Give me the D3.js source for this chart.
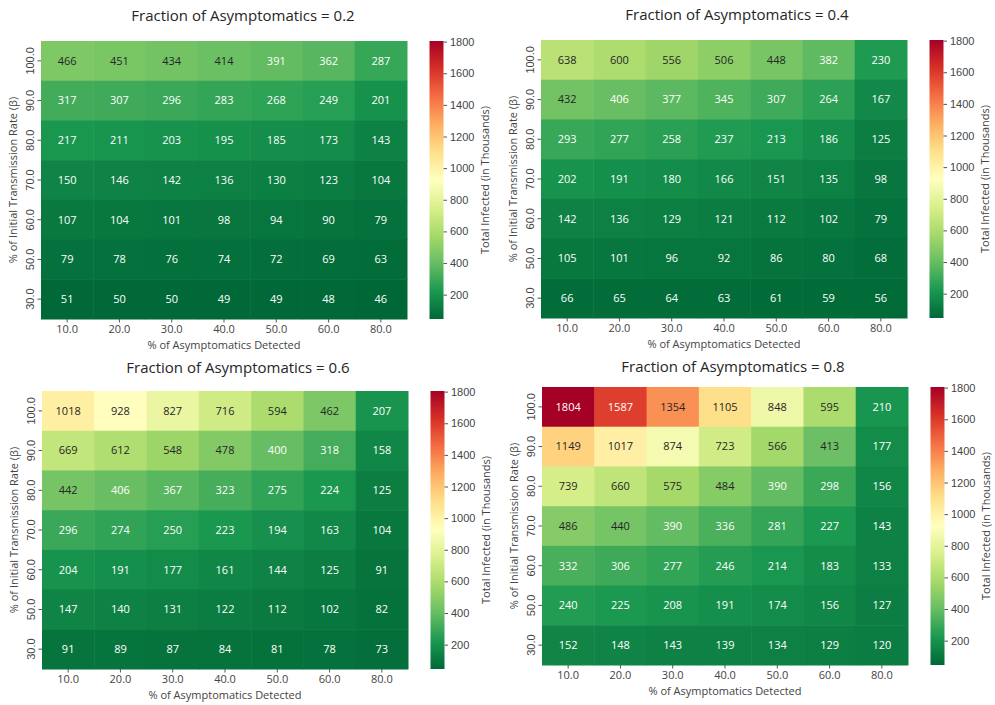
<!DOCTYPE html>
<html>
<head>
<meta charset="utf-8">
<script src="https://cdn.jsdelivr.net/npm/d3@7"></script>
<style>
  body { margin: 0; background: #fff; }
  svg { font-family: "Open Sans", "DejaVu Sans", sans-serif; }
</style>
</head>
<body>
<svg id="chart" width="995" height="705"></svg>
<script>
const detected = ["10.0", "20.0", "30.0", "40.0", "50.0", "60.0", "80.0"];
const transmission = ["100.0", "90.0", "80.0", "70.0", "60.0", "50.0", "30.0"];
const fractions = ["0.2", "0.4", "0.6", "0.8"];
const colorTicks = [200, 400, 600, 800, 1000, 1200, 1400, 1600, 1800];

const values02 = [
  [466, 451, 434, 414, 391, 362, 287],
  [317, 307, 296, 283, 268, 249, 201],
  [217, 211, 203, 195, 185, 173, 143],
  [150, 146, 142, 136, 130, 123, 104],
  [107, 104, 101, 98, 94, 90, 79],
  [79, 78, 76, 74, 72, 69, 63],
  [51, 50, 50, 49, 49, 48, 46]
];
const values04 = [
  [638, 600, 556, 506, 448, 382, 230],
  [432, 406, 377, 345, 307, 264, 167],
  [293, 277, 258, 237, 213, 186, 125],
  [202, 191, 180, 166, 151, 135, 98],
  [142, 136, 129, 121, 112, 102, 79],
  [105, 101, 96, 92, 86, 80, 68],
  [66, 65, 64, 63, 61, 59, 56]
];
const values06 = [
  [1018, 928, 827, 716, 594, 462, 207],
  [669, 612, 548, 478, 400, 318, 158],
  [442, 406, 367, 323, 275, 224, 125],
  [296, 274, 250, 223, 194, 163, 104],
  [204, 191, 177, 161, 144, 125, 91],
  [147, 140, 131, 122, 112, 102, 82],
  [91, 89, 87, 84, 81, 78, 73]
];
const values08 = [
  [1804, 1587, 1354, 1105, 848, 595, 210],
  [1149, 1017, 874, 723, 566, 413, 177],
  [739, 660, 575, 484, 390, 298, 156],
  [486, 440, 390, 336, 281, 227, 143],
  [332, 306, 277, 246, 214, 183, 133],
  [240, 225, 208, 191, 174, 156, 127],
  [152, 148, 143, 139, 134, 129, 120]
];
const allValues = [values02, values04, values06, values08];

// matplotlib RdYlGn, reversed
const rdylgn = ["#a50026","#d73027","#f46d43","#fdae61","#fee08b","#ffffbf","#d9ef8b","#a6d96a","#66bd63","#1a9850","#006837"];
const cmapColors = rdylgn.slice().reverse();
const flat = allValues.flat(2);
const vmin = d3.min(flat), vmax = d3.max(flat);
const color = d3.scaleLinear()
  .domain(cmapColors.map((c, i) => vmin + (vmax - vmin) * i / (cmapColors.length - 1)))
  .range(cmapColors)
  .interpolate(d3.interpolateRgb)
  .clamp(true);

function lum(c) {
  const rgb = d3.rgb(c);
  const f = v => { v /= 255; return v <= 0.03928 ? v / 12.92 : Math.pow((v + 0.055) / 1.055, 2.4); };
  return 0.2126 * f(rgb.r) + 0.7152 * f(rgb.g) + 0.0722 * f(rgb.b);
}

const svg = d3.select("#chart");
const W = 366, H = 278;
const layouts = [
  { x: 41, y: 41, tx: 243, ty: 21 },
  { x: 541, y: 40, tx: 737, ty: 20 },
  { x: 42, y: 391, tx: 238, ty: 373 },
  { x: 542, y: 387, tx: 733, ty: 372 }
];

const defs = svg.append("defs");
const grad = defs.append("linearGradient").attr("id", "cbgrad")
  .attr("x1", 0).attr("y1", 1).attr("x2", 0).attr("y2", 0);
d3.range(0, 101).forEach(i => {
  const v = vmin + (vmax - vmin) * i / 100;
  grad.append("stop").attr("offset", i + "%").attr("stop-color", color(v));
});

fractions.forEach((fr, k) => {
  const L = layouts[k];
  const data = allValues[k];
  const g = svg.append("g").attr("transform", `translate(${L.x},${L.y})`);
  const x = d3.scaleBand().domain(detected).range([0, W]);
  const y = d3.scaleBand().domain(transmission).range([0, H]);

  const cells = [];
  data.forEach((row, ri) => row.forEach((v, ci) => cells.push({ r: transmission[ri], c: detected[ci], v })));

  g.selectAll("rect.cell").data(cells).enter().append("rect")
    .attr("x", d => x(d.c)).attr("y", d => y(d.r))
    .attr("width", x.bandwidth() + 0.5).attr("height", y.bandwidth() + 0.5)
    .attr("fill", d => color(d.v));

  g.selectAll("text.ann").data(cells).enter().append("text")
    .attr("x", d => x(d.c) + x.bandwidth() / 2)
    .attr("y", d => y(d.r) + y.bandwidth() / 2)
    .attr("dy", "0.35em")
    .attr("text-anchor", "middle")
    .attr("font-size", 11)
    .attr("fill", d => lum(color(d.v)) > 0.408 ? "#262626" : "#ffffff")
    .text(d => d.v);

  // x axis
  const xa = g.append("g").attr("transform", `translate(0,${H})`)
    .call(d3.axisBottom(x).tickSize(3.5).tickPadding(3));
  xa.select(".domain").remove();
  xa.selectAll("line").attr("stroke", "#555");
  xa.selectAll("text").attr("font-size", 11).attr("fill", "#444").attr("font-family", "Open Sans");

  // y axis
  const ya = g.append("g").call(d3.axisLeft(y).tickSize(3.5).tickPadding(3));
  ya.select(".domain").remove();
  ya.selectAll("line").attr("stroke", "#555");
  ya.selectAll("text")
    .attr("font-size", 11).attr("fill", "#444")
    .attr("text-anchor", "middle")
    .attr("x", null).attr("dy", null)
    .attr("transform", "translate(-11,0) rotate(-90)")
    .attr("y", 0).attr("dy", "0.35em");

  g.append("text").attr("x", W / 2).attr("y", H + 30)
    .attr("text-anchor", "middle").attr("font-size", 11).attr("fill", "#444")
    .text("% of Asymptomatics Detected");
  g.append("text")
    .attr("transform", `translate(-28,${H / 2}) rotate(-90)`)
    .attr("text-anchor", "middle").attr("font-size", 11).attr("fill", "#444")
    .attr("dy", "0.35em")
    .text("% of Initial Transmission Rate (β)");

  svg.append("text").attr("x", L.tx).attr("y", L.ty)
    .attr("text-anchor", "middle").attr("font-size", 15).attr("fill", "#262626")
    .text("Fraction of Asymptomatics = " + fr);

  // colorbar
  const cbx = 388.5, cbw = 14;
  const cb = g.append("g").attr("transform", `translate(${cbx},0)`);
  cb.append("rect").attr("width", cbw).attr("height", H).attr("fill", "url(#cbgrad)");
  const cy = d3.scaleLinear().domain([vmin, vmax]).range([H, 0]);
  const ca = cb.append("g").attr("transform", `translate(${cbw},0)`)
    .call(d3.axisRight(cy).tickValues(colorTicks).tickSize(3.5).tickPadding(3).tickFormat(d3.format("d")));
  ca.select(".domain").remove();
  ca.selectAll("line").attr("stroke", "#555");
  ca.selectAll("text").attr("font-size", 11).attr("fill", "#444");
  cb.append("text")
    .attr("transform", `translate(${cbw + 42},${H / 2}) rotate(-90)`)
    .attr("text-anchor", "middle").attr("dy", "0.35em")
    .attr("font-size", 11).attr("fill", "#444")
    .text("Total Infected (in Thousands)");
});
</script>
</body>
</html>
